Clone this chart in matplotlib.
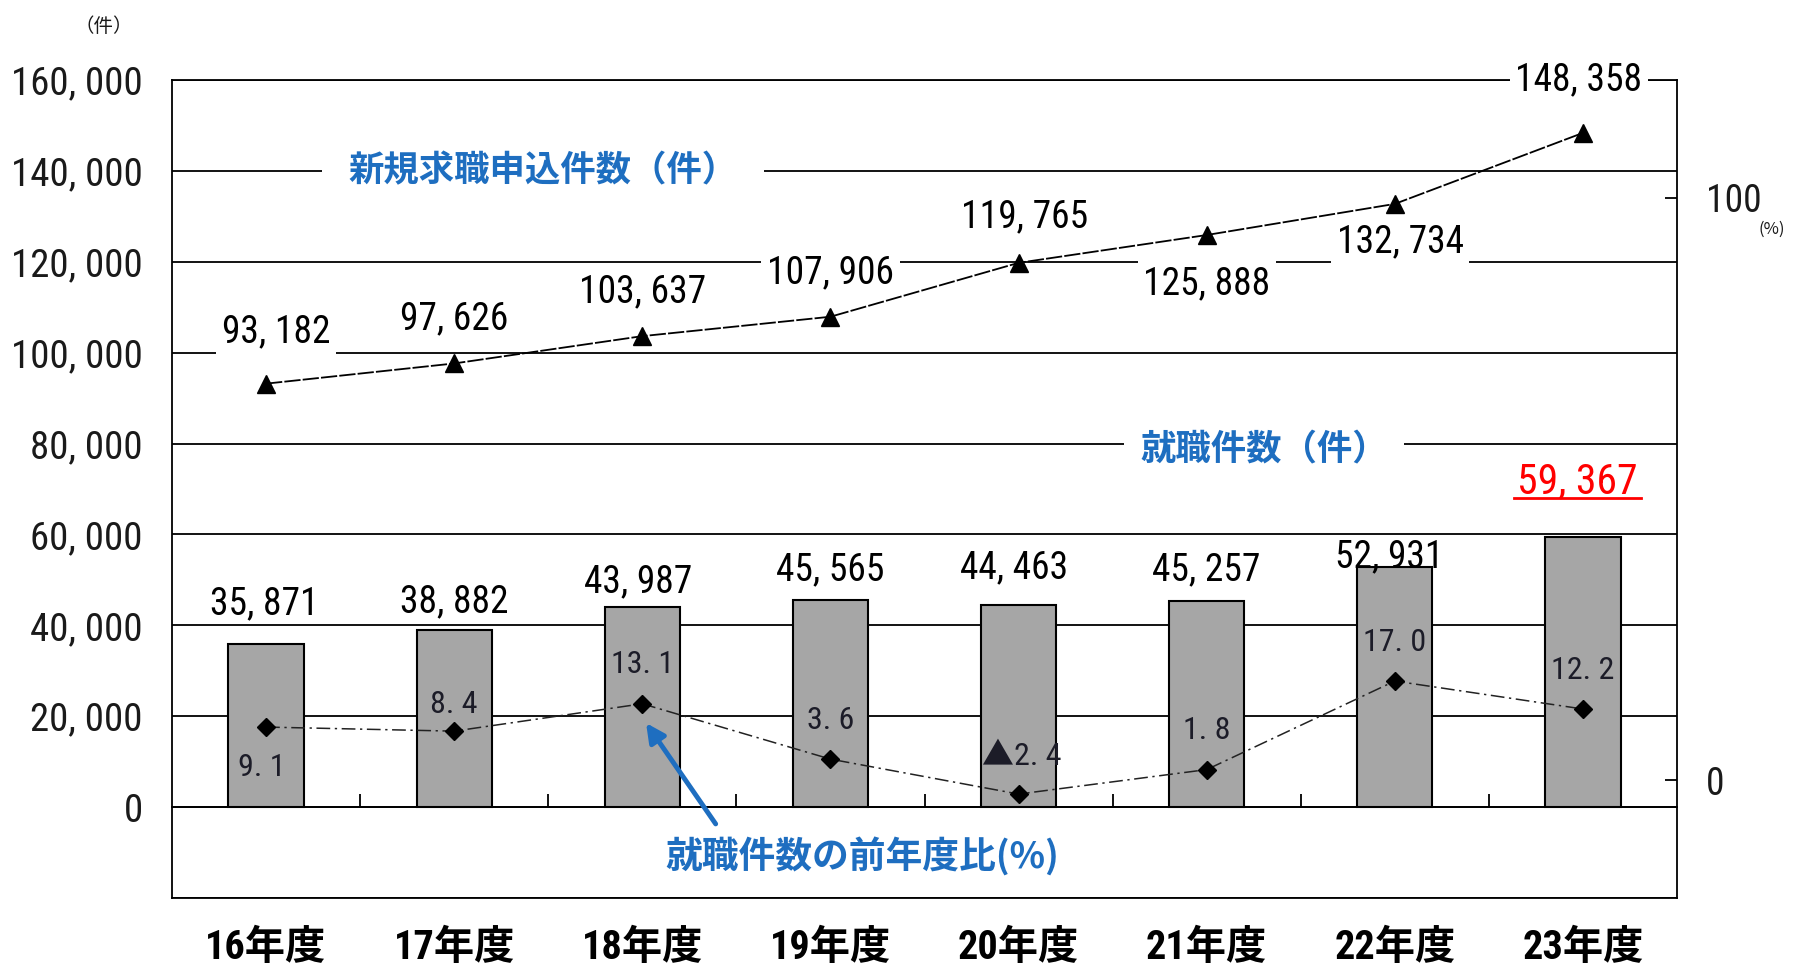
import matplotlib
matplotlib.use("Agg")
import matplotlib.pyplot as plt
from matplotlib import font_manager as fm
from matplotlib.ticker import FixedLocator, FuncFormatter
from matplotlib.lines import Line2D

# ---- data -------------------------------------------------------------
fiscal_years = ["16年度", "17年度", "18年度", "19年度", "20年度", "21年度", "22年度", "23年度"]
applications = [93182, 97626, 103637, 107906, 119765, 125888, 132734, 148358]   # 新規求職申込件数
placements = [35871, 38882, 43987, 45565, 44463, 45257, 52931, 59367]           # 就職件数
placement_growth = [9.1, 8.4, 13.1, 3.6, -2.4, 1.8, 17.0, 12.2]                  # 前年度比 (%)
count_ticks = list(range(-20000, 160001, 20000))
pct_ticks = [0, 100]

# ---- label placement (offset points from each mark) -------------------
app_offsets = [(7, 37), (0, 32), (0, 32), (0, 32), (4, 33), (0, -35), (4, -27), (-3, 38)]
bar_offsets = [(-1, 29), (0, 20.5), (-3, 18), (0, 22), (-3, 27), (0, 23), (-4, 7), (-4, 40)]
pct_offsets = [(-3, -29), (0, 19), (0, 28), (0, 28), (2, 27), (0, 28), (0, 28), (0, 28)]

# ---- fonts ------------------------------------------------------------
available = {f.name for f in fm.fontManager.ttflist}
NUM = next((n for n in ("Liberation Sans Narrow", "Roboto Condensed",
                        "Open Sans Condensed", "Liberation Sans") if n in available),
           "DejaVu Sans")
JP = "Noto Sans CJK JP"
plt.rcParams["font.family"] = [NUM, JP, "DejaVu Sans"]

BLUE = "#1E6EC0"
INK = "#1a1a1a"
GRID_LW = 1.3


def fmt_count(v):
    return f"{v:,}".replace(",", ", ")


def fmt_pct(v):
    s = f"{abs(v):.1f}".replace(".", ". ")
    return ("▲" if v < 0 else "") + s


fig = plt.figure(figsize=(17.94, 9.68), dpi=100)
ax = fig.add_axes([172 / 1794, 1 - 898 / 968, 1505 / 1794, 818 / 968])
ax2 = ax.twinx()

x = list(range(len(fiscal_years)))

# left axis: counts
ax.set_xlim(-0.5, len(x) - 0.5)
ax.set_ylim(-20000, 160000)
ax.yaxis.set_major_locator(FixedLocator(count_ticks))
ax.yaxis.set_major_formatter(FuncFormatter(lambda v, p: fmt_count(int(v)) if v >= 0 else ""))
ax.grid(axis="y", color="black", lw=GRID_LW)
ax.tick_params(axis="y", length=0, pad=21, labelsize=28, labelcolor=INK)

ax.spines["bottom"].set_position(("data", 0))
ax.spines["right"].set_visible(False)
for s in ax.spines.values():
    s.set_linewidth(GRID_LW)

ax.set_xticks(x)
ax.set_xticklabels(fiscal_years, fontsize=29, fontweight="bold", family=[NUM, JP])
ax.tick_params(axis="x", which="major", length=0, pad=101, labelcolor="black")
plt.setp(ax.get_xticklabels(), va="center")
ax.set_xticks([i + 0.5 for i in x[:-1]], minor=True)
ax.tick_params(axis="x", which="minor", direction="in", length=9.5, width=GRID_LW)

# bars: placements
ax.bar(x, placements, width=0.4, color="#a6a6a6", edgecolor="black", lw=1.5, zorder=2)
for i, v in enumerate(placements):
    dx, dy = bar_offsets[i]
    last = i == len(placements) - 1
    ax.annotate(fmt_count(v), xy=(i, v), xytext=(dx, dy), textcoords="offset points",
                ha="center", va="center", fontsize=30 if last else 27,
                color="red" if last else "black", zorder=6)

# line: applications
ax.plot(x, applications, color="black", lw=1.3, ls=(0, (9, 1.2)),
        marker="^", markersize=12.5, markerfacecolor="black", markeredgecolor="black",
        zorder=3)
for i, v in enumerate(applications):
    dx, dy = app_offsets[i]
    ax.annotate(fmt_count(v), xy=(i, v), xytext=(dx, dy), textcoords="offset points",
                ha="center", va="center", fontsize=27, color="black", zorder=7,
                bbox=dict(boxstyle="square,pad=0.15", fc="white", ec="none"))

# series captions
ax.text(1.472, 140000, "新規求職申込件数（件）", family=[JP], fontsize=25.5, fontweight="bold",
        color=BLUE, ha="center", va="center", zorder=7,
        bbox=dict(boxstyle="square,pad=0.75", fc="white", ec="none"))
ax.text(5.305, 78500, "就職件数（件）", family=[JP], fontsize=25.5, fontweight="bold",
        color=BLUE, ha="center", va="center", zorder=7,
        bbox=dict(boxstyle="square,pad=0.45", fc="white", ec="none"))
ax.text(3.168, -10800, "就職件数の前年度比(%)", family=[JP], fontsize=26.5, fontweight="bold",
        color=BLUE, ha="center", va="center", zorder=7, clip_on=False)
ax.annotate("", xy=(2.02, 18500), xytext=(2.39, -3700),
            arrowprops=dict(arrowstyle="-|>", color=BLUE, lw=3.5, mutation_scale=28,
                            shrinkA=0, shrinkB=0), zorder=6)

# right axis: year-on-year ratio
ax2.set_ylim(-20.24, 120.17)
ax2.set_yticks(pct_ticks)
ax2.set_yticklabels([str(t) for t in pct_ticks])
ax2.tick_params(axis="y", direction="in", length=9, width=GRID_LW, pad=21,
                labelsize=27, labelcolor=INK)
ax2.spines["top"].set_visible(False)
ax2.spines["left"].set_visible(False)
for s in ax2.spines.values():
    s.set_linewidth(GRID_LW)

ax2.plot(x, placement_growth, color="#222222", lw=1.1, ls=(0, (9, 3, 1.5, 3)),
         marker="D", markersize=9, markerfacecolor="black", markeredgecolor="black",
         zorder=4)
for i, v in enumerate(placement_growth):
    dx, dy = pct_offsets[i]
    ax2.annotate(fmt_pct(v), xy=(i, v), xytext=(dx, dy), textcoords="offset points",
                 ha="center", va="center", fontsize=23, color="#1c1c28",
                 family=[NUM, JP], zorder=6)

# axis units
fig.text(104 / 1794, 1 - 27 / 968, "（件）", family=[JP], fontsize=14, ha="center",
         va="center", color=INK)
fig.text(1772 / 1794, 1 - 229 / 968, "(%)", family=[JP], fontsize=12, ha="center",
         va="center", color=INK)

# underline the latest placement figure
fig.canvas.draw()
red_label = [t for t in ax.texts if t.get_color() == "red"][0]
bb = red_label.get_window_extent()
inv = ax.transData.inverted()
(x0, y0), (x1, _) = inv.transform([(bb.x0 - 3, bb.y0 + 4), (bb.x1 + 3, bb.y0 + 4)])
ax.add_line(Line2D([x0, x1], [y0, y0], color="red", lw=2, zorder=6, clip_on=False))

fig.savefig("out.png", dpi=100, facecolor="white")
